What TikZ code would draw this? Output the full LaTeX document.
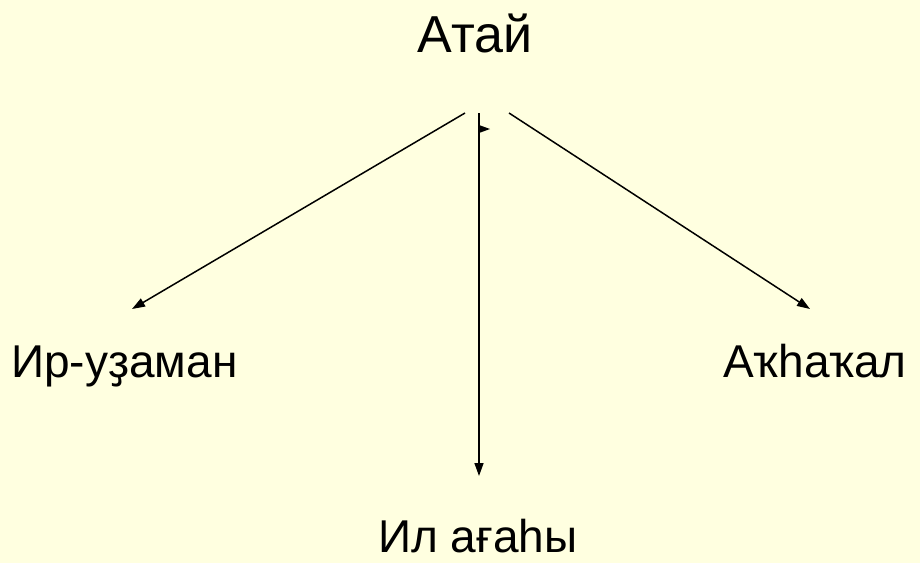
\documentclass[tikz,border=0pt]{standalone}
\usepackage{fontspec}
\setmainfont{Liberation Sans}
\usetikzlibrary{arrows.meta}
\definecolor{bgyellow}{HTML}{FFFFE0}
\tikzset{
  lbl/.style={inner sep=0pt, text=black, font=\fontsize{46}{50}\selectfont},
  toplbl/.style={inner sep=0pt, text=black, font=\fontsize{52}{56}\selectfont},
  conn/.style={line width=1.5pt, -{Triangle[length=13pt,width=9pt]}}
}
\begin{document}
\begin{tikzpicture}[x=1pt,y=-1pt]
\fill[bgyellow] (0,0) rectangle (920,563);
\useasboundingbox (0,0) rectangle (920,563);
\node[toplbl, anchor=base] (atai) at (475,52) {Атай};
\node[lbl, anchor=base west] (ir) at (11,377) {Ир-уҙаман};
\node[lbl, anchor=base west] (aq) at (723,377) {Аҡһаҡал};
\node[lbl, anchor=base west] (il) at (378,552) {Ил ағаһы};
\coordinate (sl) at (465,113);
\coordinate (sc) at (479,113);
\coordinate (sr) at (509,113);
\coordinate (el) at (132,309);
\coordinate (ec) at (479,476);
\coordinate (er) at (810,309);
\draw[conn] (sl) -- (el);
\draw[conn] (sc) -- (ec);
\draw[conn] (sr) -- (er);
\fill (479,125) -- (490,129) -- (479,133) -- cycle;
\end{tikzpicture}
\end{document}
